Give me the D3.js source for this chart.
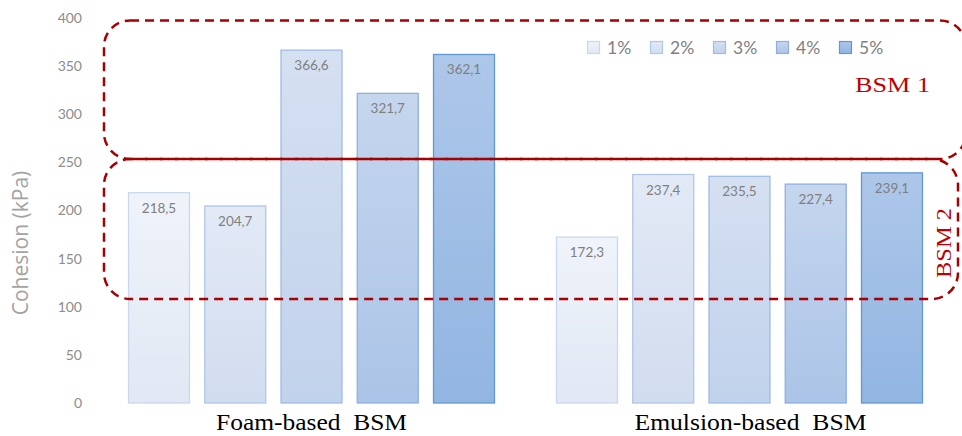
<!DOCTYPE html>
<html>
<head>
<meta charset="utf-8">
<script src="https://cdn.jsdelivr.net/npm/d3@7"></script>
<style>
  html, body { margin: 0; padding: 0; background: #fff; }
  svg { display: block; }
</style>
</head>
<body>
<svg id="chart" width="962" height="436"></svg>
<script>
// Mix types (foam / emulsion) and binder contents
const categories = ["Foam-based  BSM", "Emulsion-based  BSM"];
const seriesNames = ["1%", "2%", "3%", "4%", "5%"];
const foamValues = [218.5, 204.7, 366.6, 321.7, 362.1];
const emulsionValues = [172.3, 237.4, 235.5, 227.4, 239.1];
const yTicks = [0, 50, 100, 150, 200, 250, 300, 350, 400];

// Fill gradient (top, bottom) and outline per series
const seriesTop = ["#eff3fa", "#e3eaf6", "#d5e0f1", "#c5d6ee", "#adc7e9"];
const seriesBottom = ["#e1e8f4", "#d1dcef", "#c1d2ec", "#abc4e7", "#92b5e2"];
const seriesStroke = ["#c9d8ed", "#b0c6e6", "#9fbce2", "#8db0dd", "#6098d4"];

const valuesByCategory = [foamValues, emulsionValues];

const svg = d3.select("#chart");

const y = d3.scaleLinear().domain([0, 400]).range([403, 18]);
const x0 = d3.scaleBand().domain(categories).range([97.5, 953.5])
  .paddingInner(0.1425).paddingOuter(0.0713);
const x1 = d3.scaleBand().domain(seriesNames).range([0, x0.bandwidth()])
  .paddingInner(0.187).paddingOuter(0);

// gradients
const defs = svg.append("defs");
seriesNames.forEach((s, i) => {
  const g = defs.append("linearGradient").attr("id", "grad" + i)
    .attr("x1", 0).attr("y1", 0).attr("x2", 0).attr("y2", 1);
  g.append("stop").attr("offset", "0%").attr("stop-color", seriesTop[i]);
  g.append("stop").attr("offset", "100%").attr("stop-color", seriesBottom[i]);
});

// y axis (labels only)
const yAxis = d3.axisLeft(y).tickValues(yTicks).tickSize(0).tickPadding(0);
const yg = svg.append("g").attr("transform", "translate(82,0)").call(yAxis);
yg.select(".domain").remove();
yg.selectAll("text")
  .attr("fill", "#8c8c8c")
  .style("font-family", "Lato, 'Open Sans', sans-serif")
  .style("font-size", "14px");

svg.append("text")
  .attr("transform", "translate(28,243) rotate(-90)")
  .attr("text-anchor", "middle")
  .attr("fill", "#a3a3a3")
  .style("font-family", "'Open Sans', Lato, sans-serif")
  .style("font-size", "21px")
  .text("Cohesion (kPa)");

// bars
const groups = svg.append("g").selectAll("g")
  .data(categories).join("g")
  .attr("transform", d => `translate(${x0(d)},0)`);

groups.each(function(cat, ci) {
  const g = d3.select(this);
  const rows = seriesNames.map((s, i) => ({ s, i, v: valuesByCategory[ci][i] }));
  g.selectAll("rect").data(rows).join("rect")
    .attr("x", d => x1(d.s) + 0.5)
    .attr("y", d => y(d.v))
    .attr("width", x1.bandwidth() - 1)
    .attr("height", d => y(0) - y(d.v))
    .attr("fill", d => `url(#grad${d.i})`)
    .attr("stroke", d => seriesStroke[d.i])
    .attr("stroke-width", 1.3);
  g.selectAll("text.val").data(rows).join("text")
    .attr("class", "val")
    .attr("x", d => x1(d.s) + x1.bandwidth() / 2)
    .attr("y", d => y(d.v) + 20)
    .attr("text-anchor", "middle")
    .attr("fill", "#7f7f7f")
    .style("font-family", "Lato, 'Open Sans', sans-serif")
    .style("font-size", "13.5px")
    .text(d => d3.format(".1f")(d.v).replace(".", ","));
});

// category labels
const catLen = [191, 232];
svg.append("g").selectAll("text").data(categories).join("text")
  .attr("x", (d, i) => x0(d) + x0.bandwidth() / 2 + (i === 1 ? 11 : 0))
  .attr("y", 430)
  .attr("text-anchor", "middle")
  .attr("fill", "#000")
  .attr("textLength", (d, i) => catLen[i])
  .attr("lengthAdjust", "spacingAndGlyphs")
  .style("font-family", "'Liberation Serif', 'Times New Roman', serif")
  .style("font-size", "24px")
  .style("white-space", "pre")
  .text(d => d);

// legend
const legend = svg.append("g").attr("transform", "translate(587,41)");
const li = legend.selectAll("g").data(seriesNames).join("g")
  .attr("transform", (d, i) => `translate(${i * 63},0)`);
li.append("rect").attr("x", 0.5).attr("y", 0.5).attr("width", 12).attr("height", 12)
  .attr("fill", (d, i) => `url(#grad${i})`)
  .attr("stroke", (d, i) => seriesStroke[i]).attr("stroke-width", 1.2);
li.append("text").attr("x", 20).attr("y", 13)
  .attr("fill", "#808080")
  .style("font-family", "Lato, 'Open Sans', sans-serif")
  .style("font-size", "17.5px")
  .text(d => d);

// BSM grouping outlines
const red = "#a80000";
const outline = svg.append("g").attr("fill", "none").attr("stroke", red)
  .attr("stroke-width", 2.5).attr("stroke-dasharray", "9,6");
outline.append("rect").attr("x", 104).attr("y", 20.5).attr("width", 862)
  .attr("height", 138.5).attr("rx", 26).attr("ry", 26);
outline.append("rect").attr("x", 104).attr("y", 159).attr("width", 854)
  .attr("height", 140).attr("rx", 26).attr("ry", 26);
svg.append("line").attr("x1", 128).attr("x2", 936).attr("y1", 159).attr("y2", 159)
  .attr("stroke", red).attr("stroke-width", 2.2);

svg.append("text")
  .attr("x", 855).attr("y", 92)
  .attr("fill", "#c00000")
  .attr("textLength", 75).attr("lengthAdjust", "spacingAndGlyphs")
  .style("font-family", "'Liberation Serif', 'Times New Roman', serif")
  .style("font-size", "22px")
  .text("BSM 1");

svg.append("text")
  .attr("transform", "translate(951,243) rotate(-90)")
  .attr("text-anchor", "middle")
  .attr("fill", "#c00000")
  .attr("textLength", 70).attr("lengthAdjust", "spacingAndGlyphs")
  .style("font-family", "'Liberation Serif', 'Times New Roman', serif")
  .style("font-size", "22px")
  .text("BSM 2");
</script>
</body>
</html>
